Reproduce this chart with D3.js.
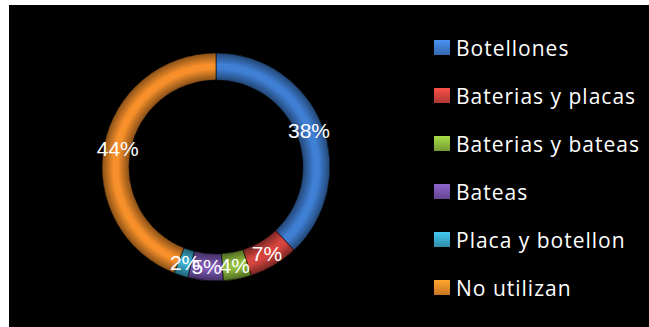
<!DOCTYPE html>
<html><head><meta charset="utf-8">
<script src="https://cdn.jsdelivr.net/npm/d3@7"></script>
<style>html,body{margin:0;padding:0;background:#fff;}svg{display:block;}</style>
</head><body>
<script>
const categories = ["Botellones","Baterias y placas","Baterias y bateas","Bateas","Placa y botellon","No utilizan"];
const values = [38,7,4,5,2,44];
const colors = ["#3f7fd4","#d8453f","#92c03e","#7b57b3","#3aaed0","#f7902a"];

const W=649,H=327;
const svg=d3.select("body").append("svg").attr("width",W).attr("height",H);
svg.append("rect").attr("x",9).attr("y",5).attr("width",W-9).attr("height",H-5).attr("fill","#000");

const cx=216, cy=167, rOut=114, rIn=87, rLab=100;
const defs=svg.append("defs");
const g=svg.append("g").attr("transform",`translate(${cx},${cy})`);
const pie=d3.pie().sort(null).value(d=>d)(values);
const arc=d3.arc().innerRadius(rIn).outerRadius(rOut);
g.selectAll("path.s").data(pie).join("path").attr("class","s")
 .attr("d",arc).attr("fill",(d,i)=>colors[i]).attr("stroke","#000").attr("stroke-width",0.6);

// bevel shading
const rg=defs.append("radialGradient").attr("id","bev").attr("gradientUnits","userSpaceOnUse")
 .attr("cx",0).attr("cy",0).attr("r",rOut);
[[rIn/rOut,0.45],[(rIn/rOut+1)/2-0.02,0],[(rIn/rOut+1)/2+0.02,0],[1,0.45]].forEach(([o,a])=>
 rg.append("stop").attr("offset",o).attr("stop-color","#000").attr("stop-opacity",a));
g.append("path").attr("d",d3.arc().innerRadius(rIn).outerRadius(rOut).startAngle(0).endAngle(2*Math.PI)())
 .attr("fill","url(#bev)");

const lab=d3.arc().innerRadius(rLab).outerRadius(rLab);
g.selectAll("text.l").data(pie).join("text").attr("class","l")
 .attr("transform",d=>`translate(${lab.centroid(d)})`)
 .attr("text-anchor","middle").attr("dy","0.36em")
 .attr("font-family","'Liberation Sans',Arial,sans-serif").attr("font-size",21)
 .attr("fill","#fff").text(d=>d.data+"%");

// legend
const ly=d3.scalePoint().domain(categories).range([48,288]);
const lg=svg.append("g");
const items=lg.selectAll("g").data(categories).join("g").attr("transform",d=>`translate(0,${ly(d)})`);
categories.forEach((c,i)=>{
  const gr=defs.append("linearGradient").attr("id","lg"+i).attr("x1",0).attr("y1",0).attr("x2",0).attr("y2",1);
  gr.append("stop").attr("offset",0).attr("stop-color",d3.color(colors[i]).brighter(0.4));
  gr.append("stop").attr("offset",1).attr("stop-color",d3.color(colors[i]).darker(0.6));
});
items.append("rect").attr("x",434).attr("y",-8).attr("width",16).attr("height",15)
 .attr("fill",(d,i)=>`url(#lg${i})`);
items.append("text").attr("x",456).attr("dy","0.36em")
 .attr("font-family","'Open Sans',sans-serif").attr("font-size",21).attr("letter-spacing",1.0)
 .attr("fill","#fff").text(d=>d);
</script>
</body></html>
